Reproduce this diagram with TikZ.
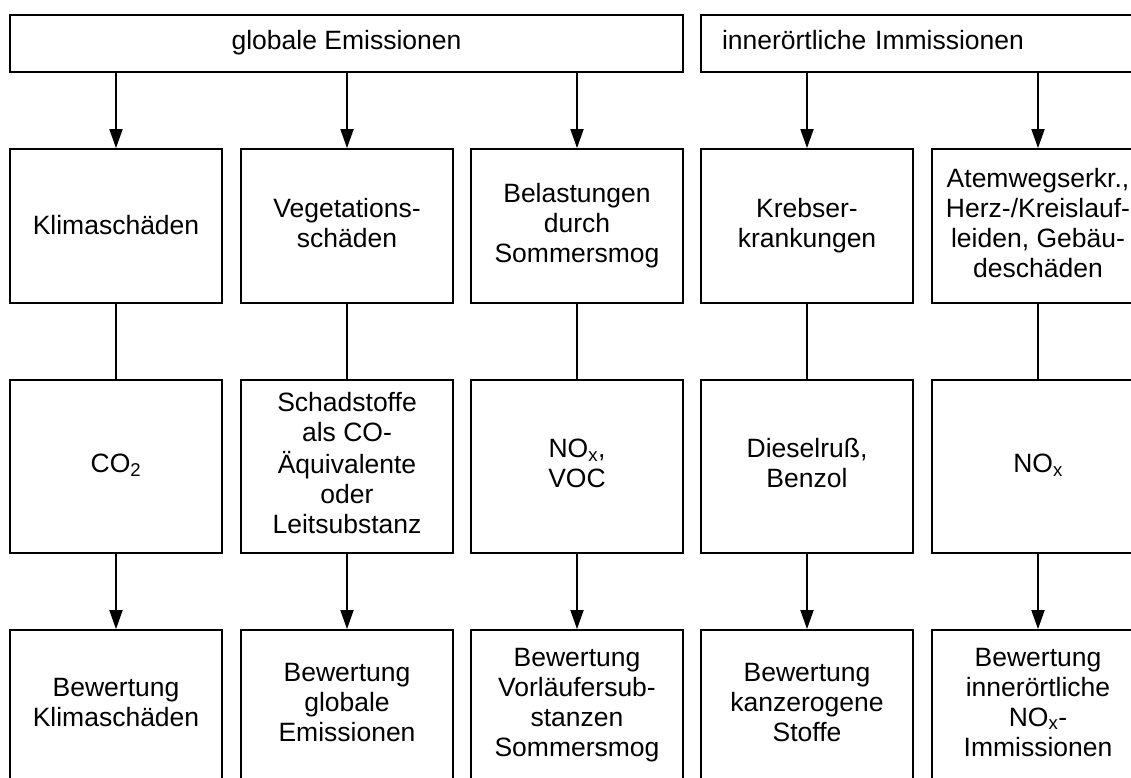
\documentclass[tikz,border=0pt]{standalone}
\usepackage{fontspec}
\setmainfont{Liberation Sans}
\usetikzlibrary{arrows.meta}
% stack centred lines with a fixed baseline distance
\newcommand\stack[1]{\begin{tabular}{@{}c@{}}#1\end{tabular}}
\begin{document}
\begin{tikzpicture}[x=1pt,y=-1pt,
  box/.style={draw, line width=1.8pt, inner sep=0pt, minimum width=212pt,
              font=\fontsize{26.5}{30}\selectfont},
  rowA/.style={box, minimum height=154pt},
  rowB/.style={box, minimum height=173pt},
  rowC/.style={box, minimum height=150pt},
  flow/.style={line width=1.8pt, -{Triangle[width=13pt,length=19pt]}},
  link/.style={line width=1.8pt}]
\useasboundingbox (0,0) rectangle (1131,778);
\clip (0,0) rectangle (1131,778);

% headers
\node[box, minimum width=673pt, minimum height=57pt] (glob) at (346.5,43.5)
  {\stack{globale Emissionen}};
\node[box, minimum width=459pt, minimum height=57pt, text width=417pt,
      inner xsep=21pt, align=left] (inner) at (930.5,43.5)
  {\strut innerörtliche Immissionen};

% effects
\node[rowA] (k1) at (116,226)  {\stack{\raisebox{-2pt}{Klimaschäden}}};
\node[rowA] (k2) at (347,226)  {\stack{Vegetations-\\schäden}};
\node[rowA] (k3) at (577,226)  {\stack{Belastungen\\durch\\Sommersmog}};
\node[rowA] (k4) at (807,226)  {\stack{Krebser-\\krankungen}};
\node[rowA] (k5) at (1038,226) {\stack{Atemwegserkr.,\\Herz-/Kreislauf-\\leiden, Gebäu-\\deschäden}};

% substances
\node[rowB] (s1) at (116,466.5)  {\stack{CO\textsubscript{2}}};
\node[rowB] (s2) at (347,466.5)  {\stack{Schadstoffe\\als CO-\\Äquivalente\\oder\\Leitsubstanz}};
\node[rowB] (s3) at (577,466.5)  {\stack{NO\textsubscript{x},\\VOC}};
\node[rowB] (s4) at (807,466.5)  {\stack{Dieselruß,\\Benzol}};
\node[rowB] (s5) at (1038,466.5) {\stack{NO\textsubscript{x}}};

% assessments
\node[rowC] (b1) at (116,705)  {\stack{Bewertung\\Klimaschäden}};
\node[rowC] (b2) at (347,705)  {\stack{Bewertung\\globale\\Emissionen}};
\node[rowC] (b3) at (577,705)  {\stack{Bewertung\\Vorläufersub-\\stanzen\\Sommersmog}};
\node[rowC] (b4) at (807,705)  {\stack{Bewertung\\kanzerogene\\Stoffe}};
\node[rowC] (b5) at (1038,705) {\stack{Bewertung\\innerörtliche\\NO\textsubscript{x}-\\Immissionen}};

% connectors
\draw[flow] (k1.north |- glob.south) -- (k1.north);
\draw[flow] (k2.north |- glob.south) -- (k2.north);
\draw[flow] (k3.north |- glob.south) -- (k3.north);
\draw[flow] (k4.north |- inner.south) -- (k4.north);
\draw[flow] (k5.north |- inner.south) -- (k5.north);

\draw[link] (k1.south) -- (s1.north);
\draw[link] (k2.south) -- (s2.north);
\draw[link] (k3.south) -- (s3.north);
\draw[link] (k4.south) -- (s4.north);
\draw[link] (k5.south) -- (s5.north);

\draw[flow] (s1.south) -- (b1.north);
\draw[flow] (s2.south) -- (b2.north);
\draw[flow] (s3.south) -- (b3.north);
\draw[flow] (s4.south) -- (b4.north);
\draw[flow] (s5.south) -- (b5.north);
\end{tikzpicture}
\end{document}
